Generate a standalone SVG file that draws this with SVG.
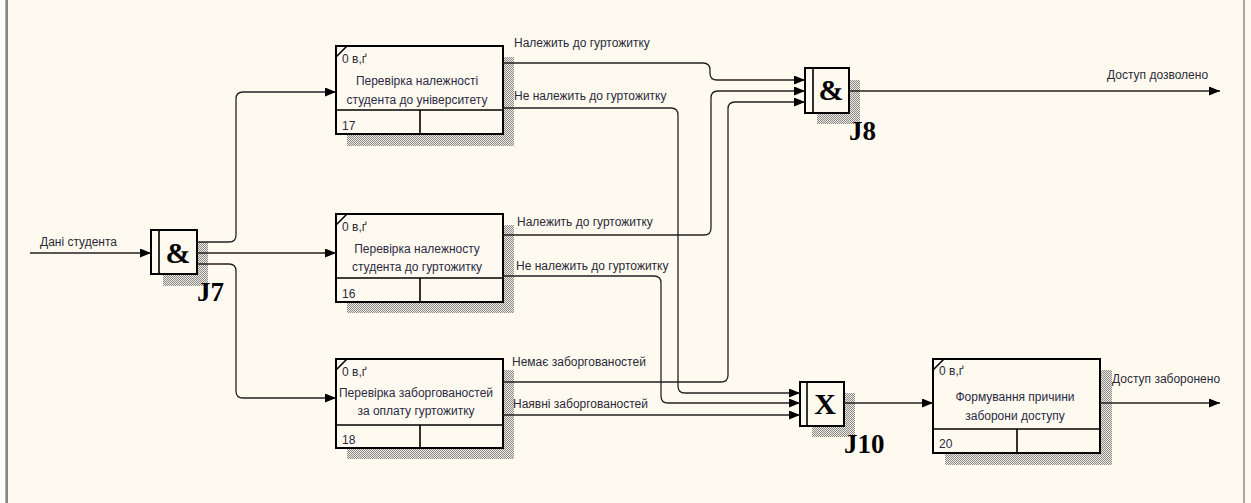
<svg xmlns="http://www.w3.org/2000/svg" width="1251" height="503" viewBox="0 0 1251 503">
  <style>
    .box { fill: none; stroke: #000; stroke-width: 2; }
    .sep { stroke: #000; stroke-width: 1.6; }
    .shadow { fill: url(#hatch); }
    .jbg { fill: #FFFAF0; }
    .lbl { font-family: "Liberation Sans", Arial, sans-serif; font-size: 12px; fill: #2a2a38; }
    .small { font-family: "Liberation Sans", Arial, sans-serif; font-size: 12px; fill: #2a2a38; }
    .title { font-family: "Liberation Sans", Arial, sans-serif; font-size: 12px; fill: #2a2a44; text-anchor: middle; }
    .sym { font-family: "Liberation Serif", "Times New Roman", serif; font-weight: bold; font-size: 30px; fill: #000; text-anchor: middle; }
    .jname { font-family: "Liberation Serif", "Times New Roman", serif; font-weight: bold; font-size: 27px; fill: #000; }
    .conn path { fill: none; stroke: #222; stroke-width: 1.3; marker-end: url(#arrow); }
  </style>
  <defs>
    <pattern id="hatch" width="2" height="2" patternUnits="userSpaceOnUse">
      <rect width="2" height="2" fill="#eeeae0"/>
      <rect width="1" height="1" fill="#8a8a8a"/>
      <rect x="1" y="1" width="1" height="1" fill="#8a8a8a"/>
    </pattern>
    <marker id="arrow" markerWidth="11" markerHeight="9" refX="11" refY="4.5" orient="auto" markerUnits="userSpaceOnUse">
      <path d="M0,0 L11,4.5 L0,9 z" fill="#000"/>
    </marker>
  </defs>

  <!-- page -->
  <rect x="0" y="0" width="1251" height="503" fill="#FFFAF0"/>
  <rect x="0" y="0" width="5" height="503" fill="#ffffff"/>
  <line x1="5.5" y1="0" x2="5.5" y2="503" stroke="#b0b0b0" stroke-width="1"/>
  <line x1="7" y1="0" x2="7" y2="503" stroke="#606060" stroke-width="1.5"/>
  <line x1="1244" y1="0" x2="1244" y2="503" stroke="#555" stroke-width="1"/>

  <!-- activity 17 -->
  <g id="box17">
    <path class="shadow" d="M503,57 H514 V146 H347 V134 H503 Z"/>
    <rect class="box" x="336" y="46" width="167" height="88"/>
    <line class="sep" x1="336" y1="110" x2="503" y2="110"/>
    <line class="sep" x1="420" y1="110" x2="420" y2="134"/>
    <line class="sep" x1="336" y1="57" x2="347" y2="46"/>
    <text class="small" x="342" y="63">0 в,ґ</text>
    <text class="title" x="417" y="85">Перевірка належності</text>
    <text class="title" x="417" y="104">студента до університету</text>
    <text class="small" x="342" y="130">17</text>
  </g>

  <!-- activity 16 -->
  <g id="box16">
    <path class="shadow" d="M503,225 H514 V313 H347 V302 H503 Z"/>
    <rect class="box" x="336" y="214" width="167" height="88"/>
    <line class="sep" x1="336" y1="278" x2="503" y2="278"/>
    <line class="sep" x1="420" y1="278" x2="420" y2="302"/>
    <line class="sep" x1="336" y1="225" x2="347" y2="214"/>
    <text class="small" x="342" y="231">0 в,ґ</text>
    <text class="title" x="417" y="253">Перевірка належносту</text>
    <text class="title" x="417" y="271">студента до гуртожитку</text>
    <text class="small" x="342" y="298">16</text>
  </g>

  <!-- activity 18 -->
  <g id="box18">
    <path class="shadow" d="M503,370 H514 V459 H347 V448 H503 Z"/>
    <rect class="box" x="336" y="359" width="167" height="89"/>
    <line class="sep" x1="336" y1="425" x2="503" y2="425"/>
    <line class="sep" x1="420" y1="425" x2="420" y2="448"/>
    <line class="sep" x1="336" y1="370" x2="347" y2="359"/>
    <text class="small" x="342" y="376">0 в,ґ</text>
    <text class="title" x="416" y="397">Перевірка заборгованостей</text>
    <text class="title" x="416" y="415">за оплату гуртожитку</text>
    <text class="small" x="342" y="444">18</text>
  </g>

  <!-- activity 20 -->
  <g id="box20">
    <path class="shadow" d="M1100,370 H1112 V465 H945 V453 H1100 Z"/>
    <rect class="box" x="933" y="359" width="167" height="94"/>
    <line class="sep" x1="933" y1="429" x2="1100" y2="429"/>
    <line class="sep" x1="1017" y1="429" x2="1017" y2="453"/>
    <line class="sep" x1="933" y1="370" x2="944" y2="359"/>
    <text class="small" x="939" y="375">0 в,ґ</text>
    <text class="title" x="1015" y="401">Формування причини</text>
    <text class="title" x="1015" y="420">заборони доступу</text>
    <text class="small" x="939" y="448">20</text>
  </g>

  <!-- junction J7 (AND) -->
  <g id="J7">
    <path class="shadow" d="M197,242 H208 V286 H163 V274 H197 Z"/>
    <rect class="jbg" x="151" y="230" width="46" height="44"/>
    <rect class="box" x="151" y="230" width="46" height="44"/>
    <line class="sep" x1="159" y1="230" x2="159" y2="274"/>
    <text class="sym" x="178" y="263">&amp;</text>
    <text class="jname" x="197" y="301">J7</text>
  </g>

  <!-- junction J8 (AND) -->
  <g id="J8">
    <path class="shadow" d="M849,80 H860 V124 H817 V113 H849 Z"/>
    <rect class="jbg" x="805" y="68" width="44" height="45"/>
    <rect class="box" x="805" y="68" width="44" height="45"/>
    <line class="sep" x1="813" y1="68" x2="813" y2="113"/>
    <text class="sym" x="831" y="100">&amp;</text>
    <text class="jname" x="849" y="140">J8</text>
  </g>

  <!-- junction J10 (XOR) -->
  <g id="J10">
    <path class="shadow" d="M844,393 H855 V437 H812 V426 H844 Z"/>
    <rect class="jbg" x="800" y="382" width="44" height="44"/>
    <rect class="box" x="800" y="382" width="44" height="44"/>
    <line class="sep" x1="807" y1="382" x2="807" y2="426"/>
    <text class="sym" x="825" y="414">X</text>
    <text class="jname" x="844" y="453">J10</text>
  </g>

  <!-- arrows -->
  <g id="connectors" class="conn">
    <path d="M30,253 H151"/>
    <path d="M197,242 H229 Q236,242 236,235 V99 Q236,92 243,92 H336"/>
    <path d="M197,253 H336"/>
    <path d="M197,264 H229 Q236,264 236,271 V391 Q236,398 243,398 H336"/>
    <path d="M503,63 H703 Q710,63 710,70 V73 Q710,80 717,80 H805"/>
    <path d="M503,108 H671 Q678,108 678,115 V386 Q678,393 685,393 H800"/>
    <path d="M503,235 H704 Q711,235 711,228 V98 Q711,91 718,91 H805"/>
    <path d="M503,276 H654 Q661,276 661,283 V396 Q661,403 668,403 H800"/>
    <path d="M503,382 H721 Q728,382 728,375 V109 Q728,102 735,102 H805"/>
    <path d="M503,415 H800"/>
    <path d="M849,91 H1220"/>
    <path d="M844,403 H933"/>
    <path d="M1100,403 H1220"/>
  </g>

  <!-- arrow labels -->
  <g id="labels">
    <text class="lbl" x="40" y="246">Дані студента</text>
    <text class="lbl" x="514" y="47">Належить до гуртожитку</text>
    <text class="lbl" x="514" y="100">Не належить до гуртожитку</text>
    <text class="lbl" x="517" y="226">Належить до гуртожитку</text>
    <text class="lbl" x="516" y="270">Не належить до гуртожитку</text>
    <text class="lbl" x="512" y="366">Немає заборгованостей</text>
    <text class="lbl" x="513" y="408">Наявні заборгованостей</text>
    <text class="lbl" x="1107" y="79">Доступ дозволено</text>
    <text class="lbl" x="1112" y="383">Доступ заборонено</text>
  </g>
</svg>
